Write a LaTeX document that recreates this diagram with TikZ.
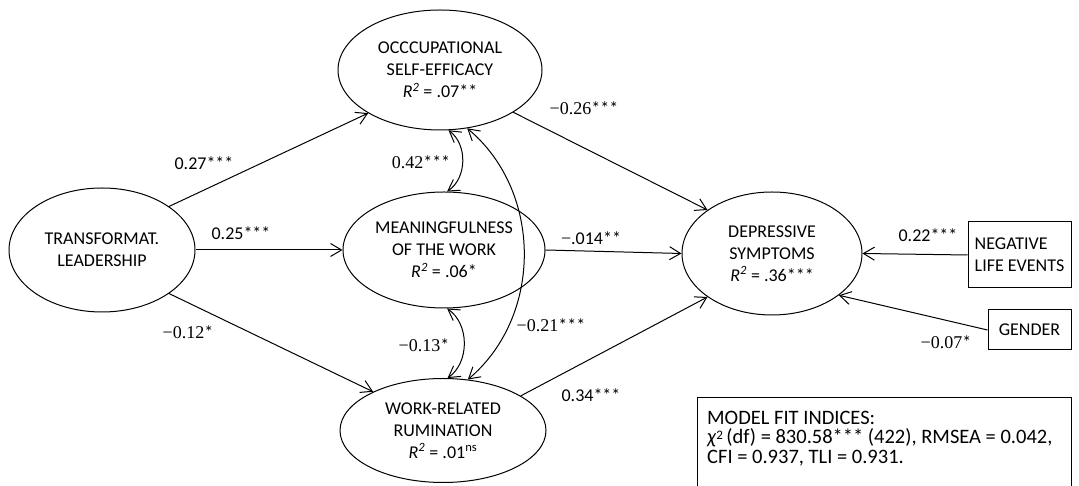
\documentclass[tikz,border=0pt]{standalone}
\usepackage{fontspec}
\setmainfont{Carlito}
\newfontfamily\srf{Liberation Serif}
\usetikzlibrary{arrows.meta,shapes.geometric}
\newcommand\Rsq{\textit{R}\textsuperscript{\textit{2}}}
\newcommand\mns{{\srf −}}
\begin{document}
\begin{tikzpicture}[x=1pt,y=1pt,
  lat/.style={draw, ellipse, line width=1pt, inner sep=0pt, align=center, font=\fontsize{18}{22}\selectfont},
  obs/.style={draw, rectangle, line width=1pt, inner sep=0pt, align=left, font=\fontsize{18}{22}\selectfont},
  barb/.tip={Straight Barb[length=11pt,width=13pt]},
  arr/.style={line width=1pt, -barb},
  cor/.style={line width=1pt, barb-barb},
  lab/.style={font=\fontsize{18}{22}\selectfont, inner sep=0pt}]
\useasboundingbox (0,0) rectangle (1079,486);

% latent variables
\node[lat, minimum width=186, minimum height=124] (tl) at (102,236) {TRANSFORMAT.\\LEADERSHIP};
\node[lat, minimum width=204, minimum height=120] (ose) at (440,416) {OCCCUPATIONAL\\SELF-EFFICACY\\\Rsq{} = .07**};
\node[lat, minimum width=202, minimum height=116] (mw) at (444,236) {MEANINGFULNESS\\OF THE WORK\\\Rsq{} = .06*};
\node[lat, minimum width=206, minimum height=104] (wr) at (443,55.5) {WORK-RELATED\\RUMINATION\\\Rsq{} = .01\textsuperscript{ns}};
\node[lat, minimum width=180, minimum height=123] (ds) at (772,232.5) {DEPRESSIVE\\SYMPTOMS\\\Rsq{} = .36***};

% observed variables
\node[obs, minimum width=103, minimum height=66] (nle) at (1019.5,231) {NEGATIVE\\LIFE EVENTS};
\node[obs, minimum width=83, minimum height=40] (gen) at (1029.5,156) {GENDER};

% paths
\draw[arr] (tl.33.5) -- (ose.211.6);
\draw[arr] (tl.east) -- (mw.west);
\draw[arr] (tl.-33.5) -- (wr.151);
\draw[arr] (ose.-30.8) -- (ds.146);
\draw[arr] (mw.east) -- (ds.west);
\draw[arr] (wr.24.8) -- (ds.214);
\draw[arr] (nle.west) -- (ds.east);
\draw[arr] (gen.west) -- (ds.-32.5);

% correlations
\draw[cor] (ose.-82) to[bend left=55] (mw.87);
\draw[cor] (mw.-87) to[bend left=55] (wr.85);
\draw[cor] (ose.-65) to[bend left=50] (wr.64.6);

% labels
\node[lab] (l1) at (204,323) {0.27***};
\node[lab] (l2) at (241,253) {0.25***};
\node[lab] (l3) at (188,154) {\mns{\srf 0.12}*};
\node[lab] (l4) at (421,324) {{\srf 0.42}***};
\node[lab] (l5) at (584,378) {\mns{\srf 0.26}***};
\node[lab] (l6) at (591,248) {\mns.014**};
\node[lab] (l7) at (424,141) {\mns{\srf 0.13}*};
\node[lab] (l8) at (551,161) {\mns{\srf 0.21}***};
\node[lab] (l9) at (591,91) {0.34***};
\node[lab] (l10) at (928,251) {0.22***};
\node[lab] (l11) at (946,144) {\mns{\srf 0.07}*};

% model fit box
\draw[line width=1pt] (697,-5) |- (1071,88) -- (1071,-5);
\node[anchor=north west, inner sep=0pt, align=left,
      font={\fontsize{20.5}{19.5}\selectfont\lineskiplimit=-20pt}] (fit) at (707,75)
  {MODEL FIT INDICES:\\\textit{χ}\raisebox{0.45ex}{\fontsize{13}{13}\selectfont 2}\,(df) = 830.58*** (422), RMSEA = 0.042,\\CFI = 0.937, TLI = 0.931.};
\end{tikzpicture}
\end{document}
